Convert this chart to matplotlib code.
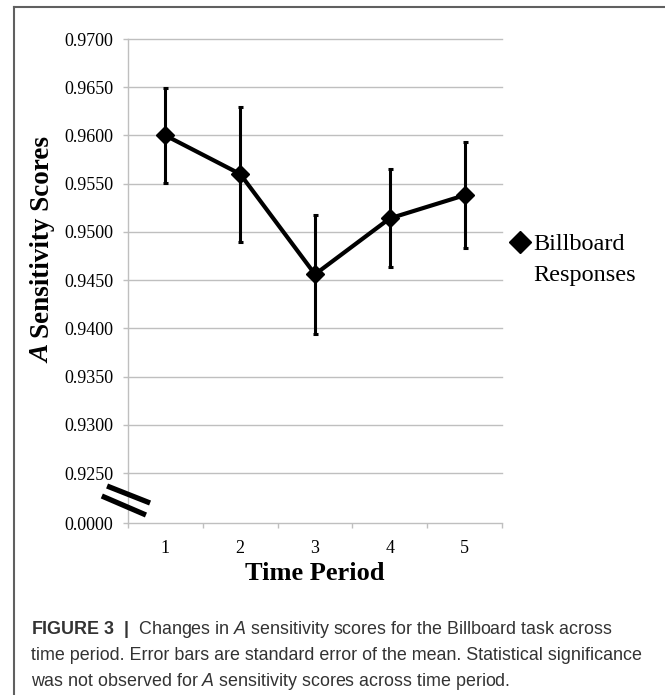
import matplotlib
matplotlib.use("Agg")
import matplotlib.pyplot as plt
import matplotlib as mpl
from matplotlib.lines import Line2D
from matplotlib.ticker import FixedLocator, FormatStrFormatter, NullFormatter

# ---- data ----
periods = [1, 2, 3, 4, 5]
period_labels = ["1", "2", "3", "4", "5"]
means = [0.9600, 0.9560, 0.9456, 0.9514, 0.9538]
err_low = [0.0049, 0.0070, 0.0062, 0.0050, 0.0055]
err_high = [0.0049, 0.0070, 0.0062, 0.0051, 0.0055]
y_ticks = [0.9250, 0.9300, 0.9350, 0.9400, 0.9450, 0.9500, 0.9550, 0.9600, 0.9650, 0.9700]
series_name = ["Billboard", "Responses"]

mpl.rcParams['mathtext.fontset'] = 'custom'
mpl.rcParams['mathtext.rm'] = 'Liberation Sans'
mpl.rcParams['mathtext.it'] = 'Liberation Sans:italic'
mpl.rcParams['mathtext.bf'] = 'Liberation Sans:bold'

W, H = 665, 695
fig = plt.figure(figsize=(W / 100, H / 100), dpi=100)

def fx(px):
    return px / W

def fy(py):
    return 1 - py / H

grid_c = '#BFBFBF'
serif = 'Liberation Serif'

ax = fig.add_axes([fx(128), fy(473), 374 / W, 434 / H])
axb = fig.add_axes([fx(128), fy(523), 374 / W, 50 / H], sharex=ax)

ax.errorbar(periods, means, yerr=[err_low, err_high], fmt='none', ecolor='black',
            elinewidth=2.2, capsize=1.8, capthick=2.2, zorder=3)
ax.plot(periods, means, '-D', color='black', lw=3, ms=9.5, zorder=4)

ax.set_xlim(0.5, 5.5)
ax.set_ylim(0.9250, 0.9700)
ax.yaxis.set_major_locator(FixedLocator(y_ticks))
ax.yaxis.set_major_formatter(FormatStrFormatter('%.4f'))
ax.grid(axis='y', color=grid_c, lw=1.0)
for gl in ax.get_ygridlines():
    gl.set_clip_on(False)
ax.set_axisbelow(True)
for s in ['top', 'right', 'bottom']:
    ax.spines[s].set_visible(False)
ax.spines['left'].set_color(grid_c)
ax.spines['left'].set_linewidth(1.0)
ax.tick_params(axis='y', length=3.6, width=1.0, color=grid_c, pad=7, labelsize=13)
ax.tick_params(axis='x', which='both', bottom=False, labelbottom=False)
for t in ax.get_yticklabels():
    t.set_fontfamily(serif)

# bottom strip with 0.0000 and x-axis
axb.set_ylim(0, 1)
axb.set_yticks([0])
axb.yaxis.set_major_formatter(FormatStrFormatter('%.4f'))
for s in ['top', 'right']:
    axb.spines[s].set_visible(False)
for s in ['left', 'bottom']:
    axb.spines[s].set_color(grid_c)
    axb.spines[s].set_linewidth(1.0)
axb.set_xticks(periods)
axb.set_xticklabels(period_labels)
axb.xaxis.set_minor_locator(FixedLocator([p - 0.5 for p in periods] + [periods[-1] + 0.5]))
axb.xaxis.set_minor_formatter(NullFormatter())
axb.tick_params(axis='x', which='major', length=0, pad=12, labelsize=13)
axb.tick_params(axis='x', which='minor', length=3.6, width=1.0, color=grid_c)
axb.tick_params(axis='y', length=3.6, width=1.0, color=grid_c, pad=7, labelsize=13)
for t in axb.get_xticklabels() + axb.get_yticklabels():
    t.set_fontfamily(serif)
axb.patch.set_alpha(0)

# axis break marks
for (x0, y0, x1, y1) in [(-0.056, 0.74, 0.059, 0.40), (-0.070, 0.54, 0.048, 0.16)]:
    axb.add_line(Line2D([x0, x1], [y0, y1], transform=axb.transAxes, color='black',
                        lw=3.8, solid_capstyle='butt', clip_on=False, zorder=5))

axb.set_xlabel('Time Period', fontsize=19, fontweight='bold', family=serif, labelpad=4)

# y label: bold-italic "A" followed by bold text
tA = fig.text(fx(43), fy(363), 'A', rotation=90, ha='center', va='bottom',
              fontsize=19.5, fontweight='bold', fontstyle='italic', family=serif)
ax.annotate('Sensitivity Scores', xy=(0.5, 1.0), xycoords=tA, xytext=(0, 5),
            textcoords='offset points', rotation=90, ha='center', va='bottom',
            fontsize=19.5, fontweight='bold', family=serif, annotation_clip=False)

# legend
handles = [Line2D([], [], marker='D', color='black', ls='none', ms=11.5),
           Line2D([], [], ls='none')]
leg = fig.legend(handles, series_name, loc='upper left', bbox_to_anchor=(fx(511), fy(233)),
                 frameon=False, handlelength=0.75, handletextpad=0.15, labelspacing=0.35,
                 borderpad=0, borderaxespad=0, prop={'family': serif, 'size': 17.5})

# frame
fig.add_artist(Line2D([fx(14), 1], [fy(7), fy(7)], transform=fig.transFigure, color='#606060', lw=1.5))
fig.add_artist(Line2D([fx(14), fx(14)], [fy(7), 0], transform=fig.transFigure, color='#606060', lw=1.5))

# caption
cap_lines = [r'$\mathbf{FIGURE\ 3\ \ |}$  Changes in $\mathit{A}$ sensitivity scores for the Billboard task across',
             'time period. Error bars are standard error of the mean. Statistical significance',
             r'was not observed for $\mathit{A}$ sensitivity scores across time period.']
cap_y = [630, 656, 681]
for s, y in zip(cap_lines, cap_y):
    fig.text(fx(31), fy(y), s, family='Liberation Sans', fontsize=12.9, va='center', color='#333333')

fig.savefig('out.png', dpi=100)
